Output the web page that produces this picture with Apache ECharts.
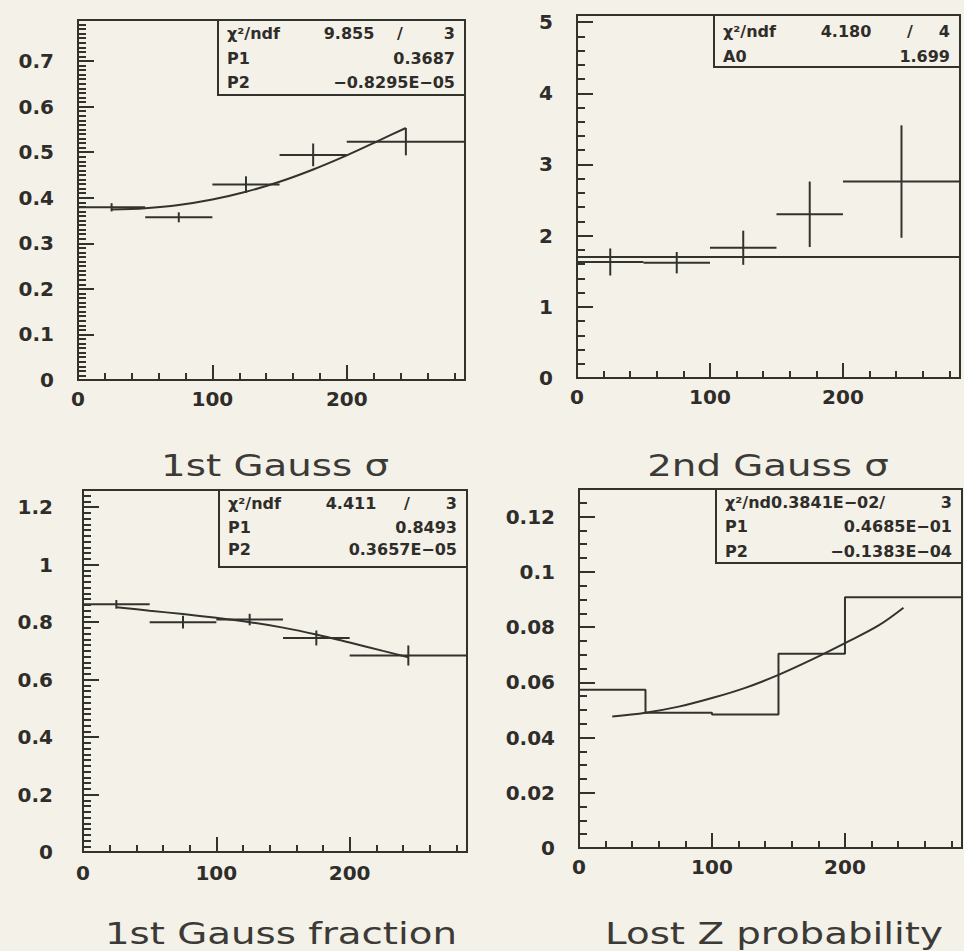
<!DOCTYPE html>
<html>
<head>
<meta charset="utf-8">
<script src="https://cdn.jsdelivr.net/npm/echarts@6/dist/echarts.min.js"></script>
<style>
  html, body { margin: 0; padding: 0; background: #f4f1e8; }
  #chart { width: 964px; height: 951px; }
</style>
</head>
<body>
<div id="chart"></div>
<script>
// Energy bins shared by all four panels
const binLo = [0, 50, 100, 150, 200];
const binHi = [50, 100, 150, 200, 288];

// 1st Gauss sigma
const sigma1Values = [0.379, 0.357, 0.429, 0.494, 0.523];
const sigma1Errors = [0.009, 0.011, 0.018, 0.025, 0.030];
const sigma1FitX = [25, 50, 75, 100, 125, 150, 175, 200, 225, 244];
const sigma1FitY = [0.374, 0.377, 0.384, 0.396, 0.413, 0.435, 0.462, 0.493, 0.527, 0.553];
const sigma1Chi2 = ['9.855', '3'];
const sigma1Params = [['P1', '0.3687'], ['P2', '\u22120.8295E\u221205']];

// 2nd Gauss sigma
const sigma2Values = [1.63, 1.62, 1.83, 2.30, 2.76];
const sigma2Errors = [0.19, 0.15, 0.24, 0.46, 0.79];
const sigma2FitX = [0, 288];
const sigma2FitY = [1.699, 1.699];
const sigma2Chi2 = ['4.180', '4'];
const sigma2Params = [['A0', '1.699']];

// 1st Gauss fraction
const fracValues = [0.862, 0.800, 0.809, 0.745, 0.684];
const fracErrors = [0.015, 0.022, 0.020, 0.026, 0.035];
const fracFitX = [25, 50, 75, 100, 125, 150, 175, 200, 225, 244];
const fracFitY = [0.852, 0.840, 0.828, 0.815, 0.800, 0.781, 0.757, 0.729, 0.700, 0.678];
const fracChi2 = ['4.411', '3'];
const fracParams = [['P1', '0.8493'], ['P2', '0.3657E\u221205']];

// Lost Z probability
const lostZValues = [0.0573, 0.0490, 0.0483, 0.0703, 0.0908];
const lostZFitX = [25, 50, 75, 100, 125, 150, 175, 200, 225, 244];
const lostZFitY = [0.0476, 0.0490, 0.0512, 0.0543, 0.0580, 0.0627, 0.0682, 0.0742, 0.0805, 0.0870];
const lostZChi2Text = '\u03c7\u00b2/nd0.3841E\u221202/';
const lostZNdf = '3';
const lostZParams = [['P1', '0.4685E\u221201'], ['P2', '\u22120.1383E\u221204']];

// Axis ranges and tick steps
const xMax = 288;
const yMax = [0.79, 5.1, 1.26, 0.13];
const yMajor = [0.1, 1, 0.2, 0.02];
const yMinor = [0.01, 0.2, 0.02, 0.005];

const titles = ['1st Gauss \u03c3', '2nd Gauss \u03c3', '1st Gauss fraction', 'Lost Z probability'];

const INK = '#33332e';
const TEXT = '#2f2d2a';
const LABEL_FONT = 'DejaVu Sans, sans-serif';

const grids = [
  { left: 78,  top: 20,  width: 387, height: 360 },
  { left: 577, top: 15,  width: 383, height: 363 },
  { left: 83,  top: 490, width: 384, height: 362 },
  { left: 579, top: 489, width: 383, height: 359 }
];
const yLabelMargin = [24, 24, 30, 24];
const xLabelMargin = [9, 9, 11, 9];

const xAxes = [];
const yAxes = [];
grids.forEach((g, i) => {
  const tickStyle = { color: INK, width: 2 };
  // fine ticks
  xAxes.push({
    type: 'value', gridIndex: i, min: 0, max: xMax, interval: 20, position: 'bottom',
    axisLine: { show: false, onZero: false }, splitLine: { show: false },
    axisTick: { show: true, inside: true, length: 7, lineStyle: tickStyle },
    axisLabel: { show: false }
  });
  // labelled ticks
  xAxes.push({
    type: 'value', gridIndex: i, min: 0, max: xMax, interval: 100, position: 'bottom',
    axisLine: { show: false, onZero: false }, splitLine: { show: false },
    axisTick: { show: true, inside: true, length: 15, lineStyle: tickStyle },
    axisLabel: {
      show: true, margin: xLabelMargin[i], showMaxLabel: false,
      fontFamily: LABEL_FONT, fontSize: 20, fontWeight: 'bold', color: TEXT
    }
  });
  yAxes.push({
    type: 'value', gridIndex: i, min: 0, max: yMax[i], interval: yMinor[i], position: 'left',
    axisLine: { show: false, onZero: false }, splitLine: { show: false },
    axisTick: { show: true, inside: true, length: 8, lineStyle: tickStyle },
    axisLabel: { show: false }
  });
  yAxes.push({
    type: 'value', gridIndex: i, min: 0, max: yMax[i], interval: yMajor[i], position: 'left',
    axisLine: { show: false, onZero: false }, splitLine: { show: false },
    axisTick: { show: true, inside: true, length: 16, lineStyle: tickStyle },
    axisLabel: {
      show: true, margin: yLabelMargin[i], showMaxLabel: false,
      fontFamily: LABEL_FONT, fontSize: 20, fontWeight: 'bold', color: TEXT
    }
  });
});

function errorBarItem(params, api) {
  const lo = api.value(0), hi = api.value(1), v = api.value(2), e = api.value(3);
  const a = api.coord([lo, v]);
  const b = api.coord([hi, v]);
  const mid = (lo + hi) / 2;
  const t = api.coord([mid, v + e]);
  const u = api.coord([mid, v - e]);
  const style = { stroke: INK, lineWidth: 2 };
  return {
    type: 'group',
    children: [
      { type: 'line', shape: { x1: a[0], y1: a[1], x2: b[0], y2: b[1] }, style: style },
      { type: 'line', shape: { x1: t[0], y1: t[1], x2: u[0], y2: u[1] }, style: style }
    ]
  };
}

function binnedPoints(values, errors) {
  return binLo.map((lo, i) => [lo, binHi[i], values[i], errors[i]]);
}

function errorSeries(i, values, errors) {
  return {
    type: 'custom', xAxisIndex: 2 * i + 1, yAxisIndex: 2 * i + 1,
    renderItem: errorBarItem, encode: { x: [0, 1], y: [2] },
    data: binnedPoints(values, errors), clip: true, silent: true
  };
}

function fitSeries(i, xs, ys, smooth) {
  return {
    type: 'line', xAxisIndex: 2 * i + 1, yAxisIndex: 2 * i + 1,
    data: xs.map((x, k) => [x, ys[k]]), smooth: smooth ? 0.35 : false,
    showSymbol: false, symbol: 'none', silent: true,
    lineStyle: { color: INK, width: 2 }
  };
}

// histogram outline for the lost Z probability
const lostZSteps = binLo.map((lo, i) => [lo, lostZValues[i]])
  .concat([[binHi[binHi.length - 1], lostZValues[lostZValues.length - 1]]]);

const series = [
  errorSeries(0, sigma1Values, sigma1Errors),
  fitSeries(0, sigma1FitX, sigma1FitY, true),
  errorSeries(1, sigma2Values, sigma2Errors),
  fitSeries(1, sigma2FitX, sigma2FitY, false),
  errorSeries(2, fracValues, fracErrors),
  fitSeries(2, fracFitX, fracFitY, true),
  {
    type: 'line', xAxisIndex: 7, yAxisIndex: 7, data: lostZSteps, step: 'end',
    showSymbol: false, symbol: 'none', silent: true,
    lineStyle: { color: INK, width: 2 }
  },
  fitSeries(3, lostZFitX, lostZFitY, true)
];

// statistics boxes
const boxFont = 'bold 16px "DejaVu Sans", sans-serif';
const graphics = [];
function boxText(text, x, y, align) {
  graphics.push({
    type: 'text', silent: true,
    style: { text: text, x: x, y: y, font: boxFont, fill: TEXT, textAlign: align || 'left', textVerticalAlign: 'middle' }
  });
}
function statBox(box, rows, chi2Left, chi2Mid, slashX, ndf) {
  graphics.push({
    type: 'rect', silent: true, shape: { x: box.x, y: box.y, width: box.w, height: box.h },
    style: { fill: 'none', stroke: INK, lineWidth: 2 }
  });
  const lx = box.x + 9, rx = box.x + box.w - 10;
  boxText(chi2Left, lx, box.rows[0]);
  if (chi2Mid) boxText(chi2Mid[0], chi2Mid[1], box.rows[0], 'center');
  if (slashX) boxText('/', slashX, box.rows[0], 'center');
  boxText(ndf, rx, box.rows[0], 'right');
  rows.forEach((r, k) => {
    boxText(r[0], lx, box.rows[k + 1]);
    boxText(r[1], rx, box.rows[k + 1], 'right');
  });
}
statBox({ x: 218, y: 20, w: 247, h: 75, rows: [33, 58, 82] }, sigma1Params, '\u03c7\u00b2/ndf', [sigma1Chi2[0], 349], 400, sigma1Chi2[1]);
statBox({ x: 714, y: 15, w: 246, h: 52, rows: [31, 56] }, sigma2Params, '\u03c7\u00b2/ndf', [sigma2Chi2[0], 846], 910, sigma2Chi2[1]);
statBox({ x: 219, y: 490, w: 248, h: 77, rows: [503, 527, 549] }, fracParams, '\u03c7\u00b2/ndf', [fracChi2[0], 351], 407, fracChi2[1]);
statBox({ x: 716, y: 489, w: 246, h: 74, rows: [502, 526, 551] }, lostZParams, lostZChi2Text, null, null, lostZNdf);

// panel captions, set in a wide face
const titleFont = '31px "DejaVu Sans", sans-serif';
const titlePos = [[275, 465], [768, 465], [281, 933], [774, 933]];
titles.forEach((t, i) => {
  graphics.push({
    type: 'text', silent: true, x: titlePos[i][0], y: titlePos[i][1], scaleX: 1.25,
    style: { text: t, x: 0, y: 0, font: titleFont, fill: '#3c3a37', textAlign: 'center', textVerticalAlign: 'middle' }
  });
});

const chart = echarts.init(document.getElementById('chart'), null, { renderer: 'svg' });
chart.setOption({
  backgroundColor: '#f4f1e8',
  animation: false,
  grid: grids.map(g => Object.assign({
    show: true, borderColor: INK, borderWidth: 2, backgroundColor: 'transparent',
    containLabel: false, outerBoundsMode: 'none'
  }, g)),
  xAxis: xAxes,
  yAxis: yAxes,
  series: series,
  graphic: graphics
});
</script>
</body>
</html>
